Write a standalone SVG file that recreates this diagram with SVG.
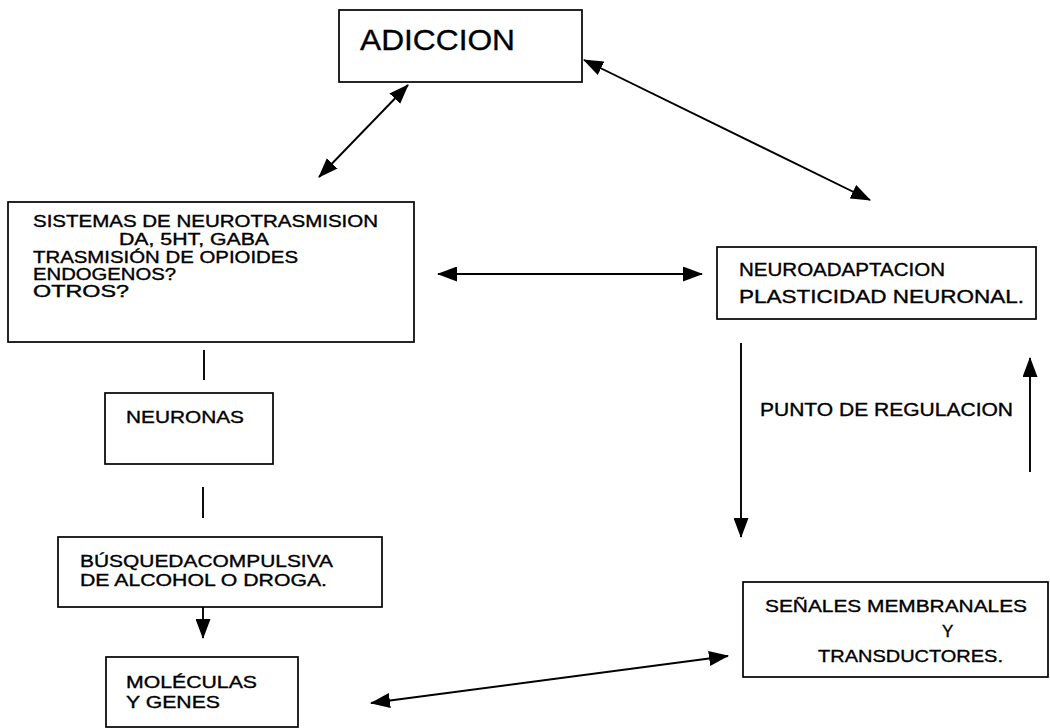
<svg xmlns="http://www.w3.org/2000/svg" width="1050" height="728" viewBox="0 0 1050 728">
<defs>
<marker id="ah" viewBox="0 0 20 15" refX="19" refY="7.5" markerWidth="20" markerHeight="15" markerUnits="userSpaceOnUse" orient="auto-start-reverse">
<path d="M0,0 L20,7.5 L0,15 Z" fill="#000"/>
</marker>
</defs>
<style>
.box{fill:#fff;stroke:#000;stroke-width:1.7}
.t{font-family:"Liberation Sans",Arial,sans-serif;fill:#000;stroke:#000;stroke-width:0.35}
.c{stroke:#000;stroke-width:1.9;fill:none}
</style>
<rect width="1050" height="728" fill="#fff"/>
<g id="connectors">
<line class="c" x1="408" y1="85" x2="319" y2="177" marker-start="url(#ah)" marker-end="url(#ah)"/>
<line class="c" x1="584" y1="60" x2="870" y2="200" marker-start="url(#ah)" marker-end="url(#ah)"/>
<line class="c" x1="438" y1="274" x2="702" y2="274" marker-start="url(#ah)" marker-end="url(#ah)"/>
<line class="c" x1="204" y1="350" x2="204" y2="380"/>
<line class="c" x1="203" y1="487" x2="203" y2="518"/>
<line class="c" x1="203" y1="607" x2="203" y2="638" marker-end="url(#ah)"/>
<line class="c" x1="741" y1="343" x2="741" y2="537" marker-end="url(#ah)"/>
<line class="c" x1="1030" y1="472" x2="1030" y2="358" marker-end="url(#ah)"/>
<line class="c" x1="371" y1="703" x2="728" y2="656" marker-start="url(#ah)" marker-end="url(#ah)"/>
</g>
<g id="adiccion">
<rect class="box" x="339" y="10" width="243" height="72"/>
<text class="t" x="360" y="50" font-size="30" textLength="155" lengthAdjust="spacingAndGlyphs">ADICCION</text>
</g>
<g id="sistemas">
<rect class="box" x="8" y="202" width="406" height="140"/>
<text class="t" x="33" y="227" font-size="16" textLength="345" lengthAdjust="spacingAndGlyphs">SISTEMAS DE NEUROTRASMISION</text>
<text class="t" x="119" y="245" font-size="16" textLength="150" lengthAdjust="spacingAndGlyphs">DA, 5HT, GABA</text>
<text class="t" x="33" y="263" font-size="16" textLength="265" lengthAdjust="spacingAndGlyphs">TRASMISIÓN DE OPIOIDES</text>
<text class="t" x="33" y="280" font-size="16" textLength="143" lengthAdjust="spacingAndGlyphs">ENDOGENOS?</text>
<text class="t" x="33" y="297" font-size="16" textLength="96" lengthAdjust="spacingAndGlyphs">OTROS?</text>
</g>
<g id="neuroadaptacion">
<rect class="box" x="717" y="247" width="319" height="72"/>
<text class="t" x="739" y="276" font-size="18" textLength="206" lengthAdjust="spacingAndGlyphs">NEUROADAPTACION</text>
<text class="t" x="739" y="303" font-size="18" textLength="285" lengthAdjust="spacingAndGlyphs">PLASTICIDAD NEURONAL.</text>
</g>
<g id="punto">
<text class="t" x="760" y="416" font-size="18" textLength="253" lengthAdjust="spacingAndGlyphs">PUNTO DE REGULACION</text>
</g>
<g id="neuronas">
<rect class="box" x="105" y="393" width="168" height="71"/>
<text class="t" x="126" y="423" font-size="17" textLength="118" lengthAdjust="spacingAndGlyphs">NEURONAS</text>
</g>
<g id="busqueda">
<rect class="box" x="58" y="537" width="324" height="70"/>
<text class="t" x="80" y="567" font-size="17" textLength="253" lengthAdjust="spacingAndGlyphs">BÚSQUEDACOMPULSIVA</text>
<text class="t" x="80" y="586" font-size="17" textLength="247" lengthAdjust="spacingAndGlyphs">DE ALCOHOL O DROGA.</text>
</g>
<g id="moleculas">
<rect class="box" x="106" y="657" width="192" height="70"/>
<text class="t" x="126" y="688" font-size="17" textLength="131" lengthAdjust="spacingAndGlyphs">MOLÉCULAS</text>
<text class="t" x="126" y="708" font-size="17" textLength="94" lengthAdjust="spacingAndGlyphs">Y GENES</text>
</g>
<g id="senales">
<rect class="box" x="743" y="582" width="305" height="95"/>
<text class="t" x="765" y="612" font-size="17" textLength="262" lengthAdjust="spacingAndGlyphs">SEÑALES MEMBRANALES</text>
<text class="t" x="942" y="637" font-size="17">Y</text>
<text class="t" x="818" y="662" font-size="17" textLength="185" lengthAdjust="spacingAndGlyphs">TRANSDUCTORES.</text>
</g>
</svg>
